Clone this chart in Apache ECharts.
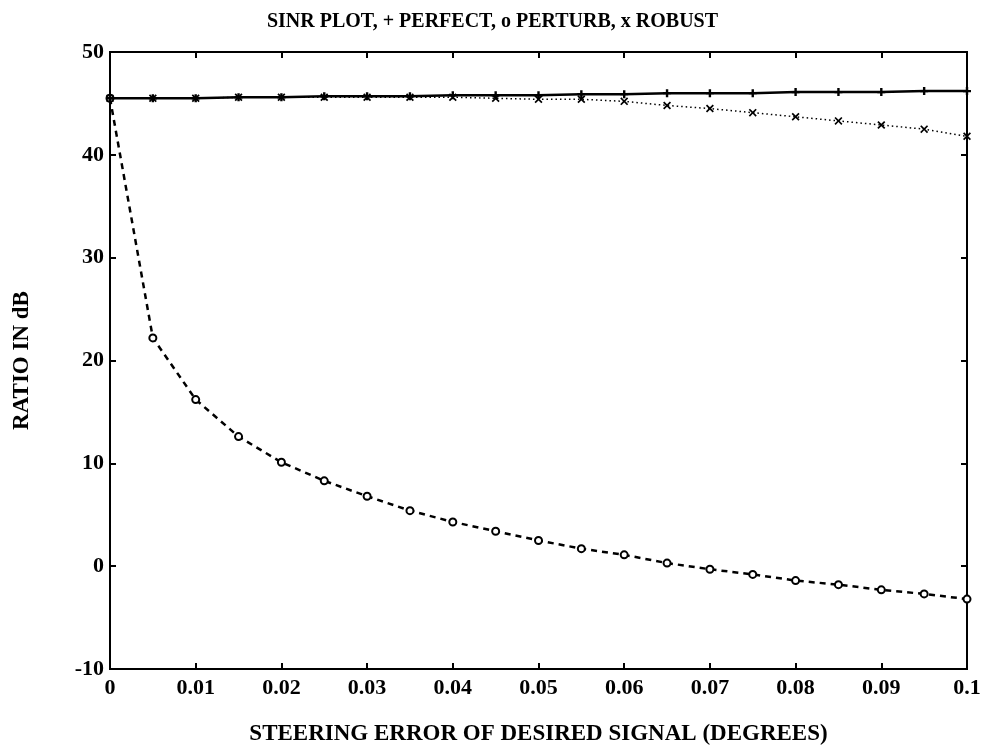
<!DOCTYPE html>
<html lang="en">
<head>
    <meta charset="UTF-8">
    <title>SINR plot</title>
    <script src="https://cdn.jsdelivr.net/npm/echarts@6/dist/echarts.min.js"></script>
    <style>
        html, body { margin: 0; padding: 0; background: #ffffff; }
        #chart { width: 985px; height: 752px; }
    </style>
</head>
<body>
<div id="chart"></div>
<script>
    // steering error (degrees)
    var steerErr = [0, 0.005, 0.01, 0.015, 0.02, 0.025, 0.03, 0.035, 0.04, 0.045, 0.05,
        0.055, 0.06, 0.065, 0.07, 0.075, 0.08, 0.085, 0.09, 0.095, 0.1];
    // SINR in dB
    var perfect = [45.5, 45.5, 45.5, 45.6, 45.6, 45.7, 45.7, 45.7, 45.8, 45.8, 45.8,
        45.9, 45.9, 46.0, 46.0, 46.0, 46.1, 46.1, 46.1, 46.2, 46.2];
    var perturb = [45.5, 22.2, 16.2, 12.6, 10.1, 8.3, 6.8, 5.4, 4.3, 3.4, 2.5,
        1.7, 1.1, 0.3, -0.3, -0.8, -1.4, -1.8, -2.3, -2.7, -3.2];
    var robust = [45.5, 45.5, 45.5, 45.6, 45.6, 45.6, 45.6, 45.6, 45.6, 45.5, 45.4,
        45.4, 45.2, 44.8, 44.5, 44.1, 43.7, 43.3, 42.9, 42.5, 41.8];

    function pairs(ys) {
        var out = [];
        for (var i = 0; i < steerErr.length; i++) {
            out.push([steerErr[i], ys[i]]);
        }
        return out;
    }

    var font = 'Liberation Serif';
    var plusSym = 'path://M3.5,0H6.5V3.5H10V6.5H6.5V10H3.5V6.5H0V3.5H3.5Z';
    var crossSym = 'path://M0,1.5L1.5,0L5,3.5L8.5,0L10,1.5L6.5,5L10,8.5L8.5,10L5,6.5L1.5,10L0,8.5L3.5,5Z';

    var option = {
        backgroundColor: '#ffffff',
        animation: false,
        title: {
            text: 'SINR PLOT, + PERFECT, o PERTURB, x ROBUST',
            left: 'center',
            top: 7,
            textStyle: { fontFamily: font, fontSize: 20, fontWeight: 'bold', color: '#000' }
        },
        grid: {
            left: 110, right: 18, top: 52, bottom: 83,
            show: true, borderColor: '#000', borderWidth: 2
        },
        xAxis: [{
            type: 'value', min: 0, max: 0.1, interval: 0.01,
            name: 'STEERING ERROR OF DESIRED SIGNAL (DEGREES)',
            nameLocation: 'middle', nameGap: 54,
            nameTextStyle: { fontFamily: font, fontSize: 23, fontWeight: 'bold', color: '#000' },
            axisLine: { onZero: false, lineStyle: { color: '#000', width: 2 } },
            axisTick: { inside: true, length: 6, lineStyle: { color: '#000', width: 2 } },
            splitLine: { show: false },
            axisLabel: {
                margin: 8,
                fontFamily: font, fontSize: 22, fontWeight: 'bold', color: '#000',
                formatter: function (v) { return String(parseFloat(v.toFixed(2))); }
            }
        }, {
            type: 'value', min: 0, max: 0.1, interval: 0.01, position: 'top',
            axisLine: { show: false, onZero: false },
            axisTick: { inside: true, length: 6, lineStyle: { color: '#000', width: 2 } },
            axisLabel: { show: false },
            splitLine: { show: false }
        }],
        yAxis: [{
            type: 'value', min: -10, max: 50, interval: 10,
            name: 'RATIO IN dB',
            nameLocation: 'middle', nameGap: 76,
            nameTextStyle: { fontFamily: font, fontSize: 23, fontWeight: 'bold', color: '#000' },
            axisLine: { onZero: false, lineStyle: { color: '#000', width: 2 } },
            axisTick: { inside: true, length: 6, lineStyle: { color: '#000', width: 2 } },
            splitLine: { show: false },
            axisLabel: { margin: 6, fontFamily: font, fontSize: 22, fontWeight: 'bold', color: '#000' }
        }, {
            type: 'value', min: -10, max: 50, interval: 10, position: 'right',
            axisLine: { show: false, onZero: false },
            axisTick: { inside: true, length: 6, lineStyle: { color: '#000', width: 2 } },
            axisLabel: { show: false },
            splitLine: { show: false }
        }],
        series: [
            {
                name: 'PERFECT', type: 'line', data: pairs(perfect),
                symbol: plusSym, symbolSize: 8,
                itemStyle: { color: '#000' },
                lineStyle: { color: '#000', width: 2.5, type: 'solid' },
                z: 3
            },
            {
                name: 'ROBUST', type: 'line', data: pairs(robust),
                symbol: crossSym, symbolSize: 8,
                itemStyle: { color: '#000' },
                lineStyle: { color: '#000', width: 1.5, type: [1.5, 3] },
                z: 2
            },
            {
                name: 'PERTURB', type: 'line', data: pairs(perturb),
                symbol: 'emptyCircle', symbolSize: 7,
                itemStyle: { color: '#000', borderColor: '#000', borderWidth: 2 },
                lineStyle: { color: '#000', width: 2.5, type: [6, 5] },
                z: 2
            }
        ]
    };

    var chart = echarts.init(document.getElementById('chart'));
    chart.setOption(option);
</script>
</body>
</html>
